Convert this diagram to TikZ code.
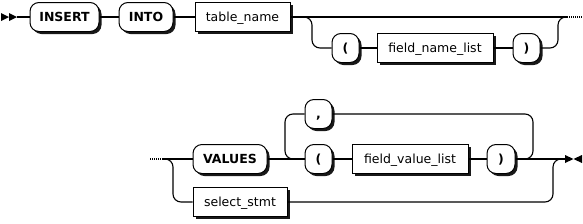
\documentclass[tikz,border=0pt]{standalone}
\usepackage{fontspec}
\setmainfont{DejaVu Sans}
\usetikzlibrary{shadows}

\begin{document}
\begin{tikzpicture}[
		x=1pt, y=-1pt,
		every node/.style={font=\fontsize{12.5}{14}\selectfont},
		term/.style={
			rectangle, draw, fill=white, rounded corners=9pt,
			line width=1pt, inner sep=0pt, minimum height=29pt,
			text height=9pt, text depth=0pt,
			font=\fontsize{12.5}{14}\selectfont\bfseries,
			drop shadow={shadow xshift=2.5pt, shadow yshift=-2.5pt, fill=black!90, opacity=1}
		},
		nonterm/.style={
			rectangle, draw, fill=white,
			line width=1pt, inner sep=0pt, minimum height=29pt,
			text height=9pt, text depth=0pt,
			drop shadow={shadow xshift=2.5pt, shadow yshift=-2.5pt, fill=black!90, opacity=1}
		},
		rail/.style={line width=1.1pt, rounded corners=8pt},
		dots/.style={line width=1.1pt, dash pattern=on 1pt off 1pt}
		]
		\useasboundingbox (0,0) rectangle (583,223);
		
		% first line
		\node[term, minimum width=69pt] (insert) at (64.5,17) {INSERT};
		\node[term, minimum width=54pt] (into) at (146,17) {INTO};
		\node[nonterm, minimum width=95pt] (tname) at (242.5,17) {table\_name};
		\node[term, minimum width=27pt] (lpa) at (345.5,48) {(};
		\node[nonterm, minimum width=116pt] (fnames) at (435,48) {field\_name\_list};
		\node[term, minimum width=27pt] (rpa) at (526.5,48) {)};
		
		% second line
		\node[term, minimum width=74pt] (values) at (230,159) {VALUES};
		\node[nonterm, minimum width=94pt] (select) at (240,202) {select\_stmt};
		\node[term, minimum width=27pt] (comma) at (318.5,114) {,};
		\node[term, minimum width=27pt] (lpb) at (318.5,159) {(};
		\node[nonterm, minimum width=116pt] (fvalues) at (410,159) {field\_value\_list};
		\node[term, minimum width=28pt] (rpb) at (501,159) {)};
		
		\coordinate (start) at (17,17);
		\coordinate (b1) at (312,17);
		\coordinate (j1) at (558,17);
		\coordinate (e1) at (567,17);
		\coordinate (e1dots) at (583,17);
		\coordinate (s2dots) at (150,159);
		\coordinate (s2) at (163,159);
		\coordinate (b2) at (173,159);
		\coordinate (b3) at (285,159);
		\coordinate (b4) at (533,159);
		\coordinate (b5) at (553,159);
		\coordinate (fin) at (565,159);
		
		% start and end marks
		\fill (1,13) -- (9,17) -- (1,21) -- cycle;
		\fill (9,13) -- (17,17) -- (9,21) -- cycle;
		\fill (565,155) -- (573.5,159) -- (565,163) -- cycle;
		\fill (582,155) -- (573.5,159) -- (582,163) -- cycle;
		
		\draw[rail] (start) -- (insert);
		\draw[rail] (insert) -- (into);
		\draw[rail] (into) -- (tname);
		\draw[rail] (tname) -- (e1);
		\draw[rail] (tname.east) -- (b1) |- (lpa.west);
		\draw[rail] (lpa) -- (fnames);
		\draw[rail] (fnames) -- (rpa);
		\draw[rail] (rpa.east) -| (j1) -- (e1);
		\draw[dots] (e1) -- (e1dots);
		
		\draw[dots] (s2dots) -- (s2);
		\draw[rail] (s2) -- (values.west);
		\draw[rail] (s2) -- (b2) |- (select.west);
		\draw[rail] (values) -- (lpb);
		\draw[rail] (comma.west) -| (b3) -- (lpb.west);
		\draw[rail] (lpb) -- (fvalues);
		\draw[rail] (fvalues) -- (rpb);
		\draw[rail] (comma.east) -| (b4) -- (rpb.east);
		\draw[rail] (rpb.east) -- (fin);
		\draw[rail] (select.east) -| (b5) -- (fin);
	\end{tikzpicture}
\end{document}
